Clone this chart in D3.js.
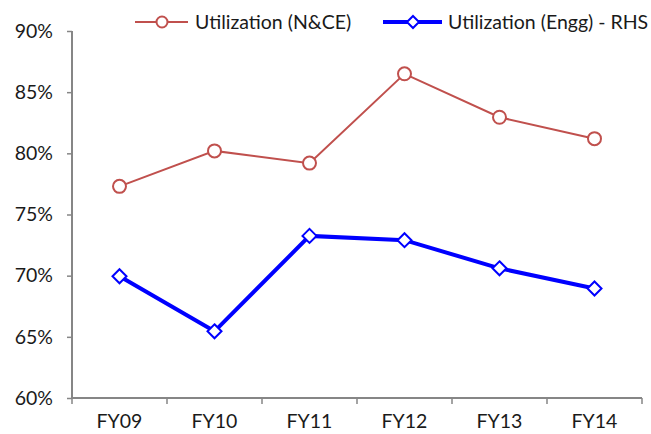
<!DOCTYPE html>
<html>
<head>
<meta charset="utf-8">
<script src="https://cdn.jsdelivr.net/npm/d3@7"></script>
<style>
  html, body { margin: 0; padding: 0; background: #fff; }
  svg text { font-family: Lato, "Open Sans", sans-serif; fill: #1a1a1a; }
</style>
</head>
<body>
<svg id="chart" width="651" height="434"></svg>
<script>
// Fiscal years on the category axis
const categories = ["FY09", "FY10", "FY11", "FY12", "FY13", "FY14"];
// Utilization (N&CE), percent
const utilNCE = [77.3, 80.2, 79.2, 86.5, 82.95, 81.2];
// Utilization (Engg), percent (right-hand series)
const utilEngg = [69.95, 65.45, 73.25, 72.9, 70.6, 68.95];
// Value axis ticks, percent
const yTicks = [60, 65, 70, 75, 80, 85, 90];

const seriesNames = ["Utilization (N&CE)", "Utilization (Engg) - RHS"];

const svg = d3.select("#chart");
const plotLeft = 72, plotRight = 642, plotTop = 31, plotBottom = 398;
const fontSize = "19.5px";

const x = d3.scaleBand().domain(categories).range([plotLeft, plotRight]);
const y = d3.scaleLinear().domain([60, 90]).range([plotBottom, plotTop]);

const axisColor = "#868686";

// Value axis
const yAxis = svg.append("g")
  .attr("transform", `translate(${plotLeft},0)`)
  .call(d3.axisLeft(y).tickValues(yTicks).tickSize(5).tickPadding(14)
    .tickFormat(d => d + "%"));
yAxis.select(".domain").attr("stroke", axisColor).attr("stroke-width", 2)
  .attr("d", `M0,${plotTop}V${plotBottom}`);
yAxis.selectAll(".tick line").attr("stroke", axisColor).attr("stroke-width", 1.5);
yAxis.selectAll(".tick text").style("font-size", fontSize).attr("fill", "#1a1a1a");

// Category axis
const xAxis = svg.append("g")
  .attr("transform", `translate(0,${plotBottom})`)
  .call(d3.axisBottom(x).tickSize(0).tickPadding(16));
xAxis.select(".domain").attr("stroke", axisColor).attr("stroke-width", 2)
  .attr("d", `M${plotLeft},0H${plotRight}`);
xAxis.selectAll(".tick text").style("font-size", fontSize).attr("fill", "#1a1a1a");
// Boundary tick marks between categories
const bounds = categories.map(c => x(c)).concat([plotRight]);
svg.append("g").selectAll("line").data(bounds).join("line")
  .attr("x1", d => d).attr("x2", d => d)
  .attr("y1", plotBottom).attr("y2", plotBottom + 6)
  .attr("stroke", axisColor).attr("stroke-width", 1.5);

const cx = c => x(c) + x.bandwidth() / 2;
const line = d3.line().x((d, i) => cx(categories[i])).y(d => y(d));

// N&CE series: thin red line with open circles
svg.append("path").datum(utilNCE)
  .attr("d", line).attr("fill", "none")
  .attr("stroke", "#C0504D").attr("stroke-width", 2);
svg.append("g").selectAll("circle").data(utilNCE).join("circle")
  .attr("cx", (d, i) => cx(categories[i])).attr("cy", d => y(d)).attr("r", 6.5)
  .attr("fill", "#fff").attr("stroke", "#C0504D").attr("stroke-width", 2);

// Engg series: thick blue line with open diamonds
const diamond = (px, py, s) => `M${px},${py - s}L${px + s},${py}L${px},${py + s}L${px - s},${py}Z`;
svg.append("path").datum(utilEngg)
  .attr("d", line).attr("fill", "none")
  .attr("stroke", "#0000FF").attr("stroke-width", 4);
svg.append("g").selectAll("path").data(utilEngg).join("path")
  .attr("d", (d, i) => diamond(cx(categories[i]), y(d), 7))
  .attr("fill", "#fff").attr("stroke", "#0000FF").attr("stroke-width", 2);

// Legend
const lg = svg.append("g");
lg.append("line").attr("x1", 135).attr("x2", 188).attr("y1", 22).attr("y2", 22)
  .attr("stroke", "#C0504D").attr("stroke-width", 2);
lg.append("circle").attr("cx", 162).attr("cy", 22).attr("r", 5.5)
  .attr("fill", "#fff").attr("stroke", "#C0504D").attr("stroke-width", 2);
lg.append("text").attr("x", 195).attr("y", 29).style("font-size", fontSize)
  .text(seriesNames[0]);
lg.append("line").attr("x1", 383).attr("x2", 442).attr("y1", 22).attr("y2", 22)
  .attr("stroke", "#0000FF").attr("stroke-width", 4);
lg.append("path").attr("d", diamond(413, 22, 6))
  .attr("fill", "#fff").attr("stroke", "#0000FF").attr("stroke-width", 2);
lg.append("text").attr("x", 448).attr("y", 29).style("font-size", fontSize)
  .text(seriesNames[1]);
</script>
</body>
</html>
